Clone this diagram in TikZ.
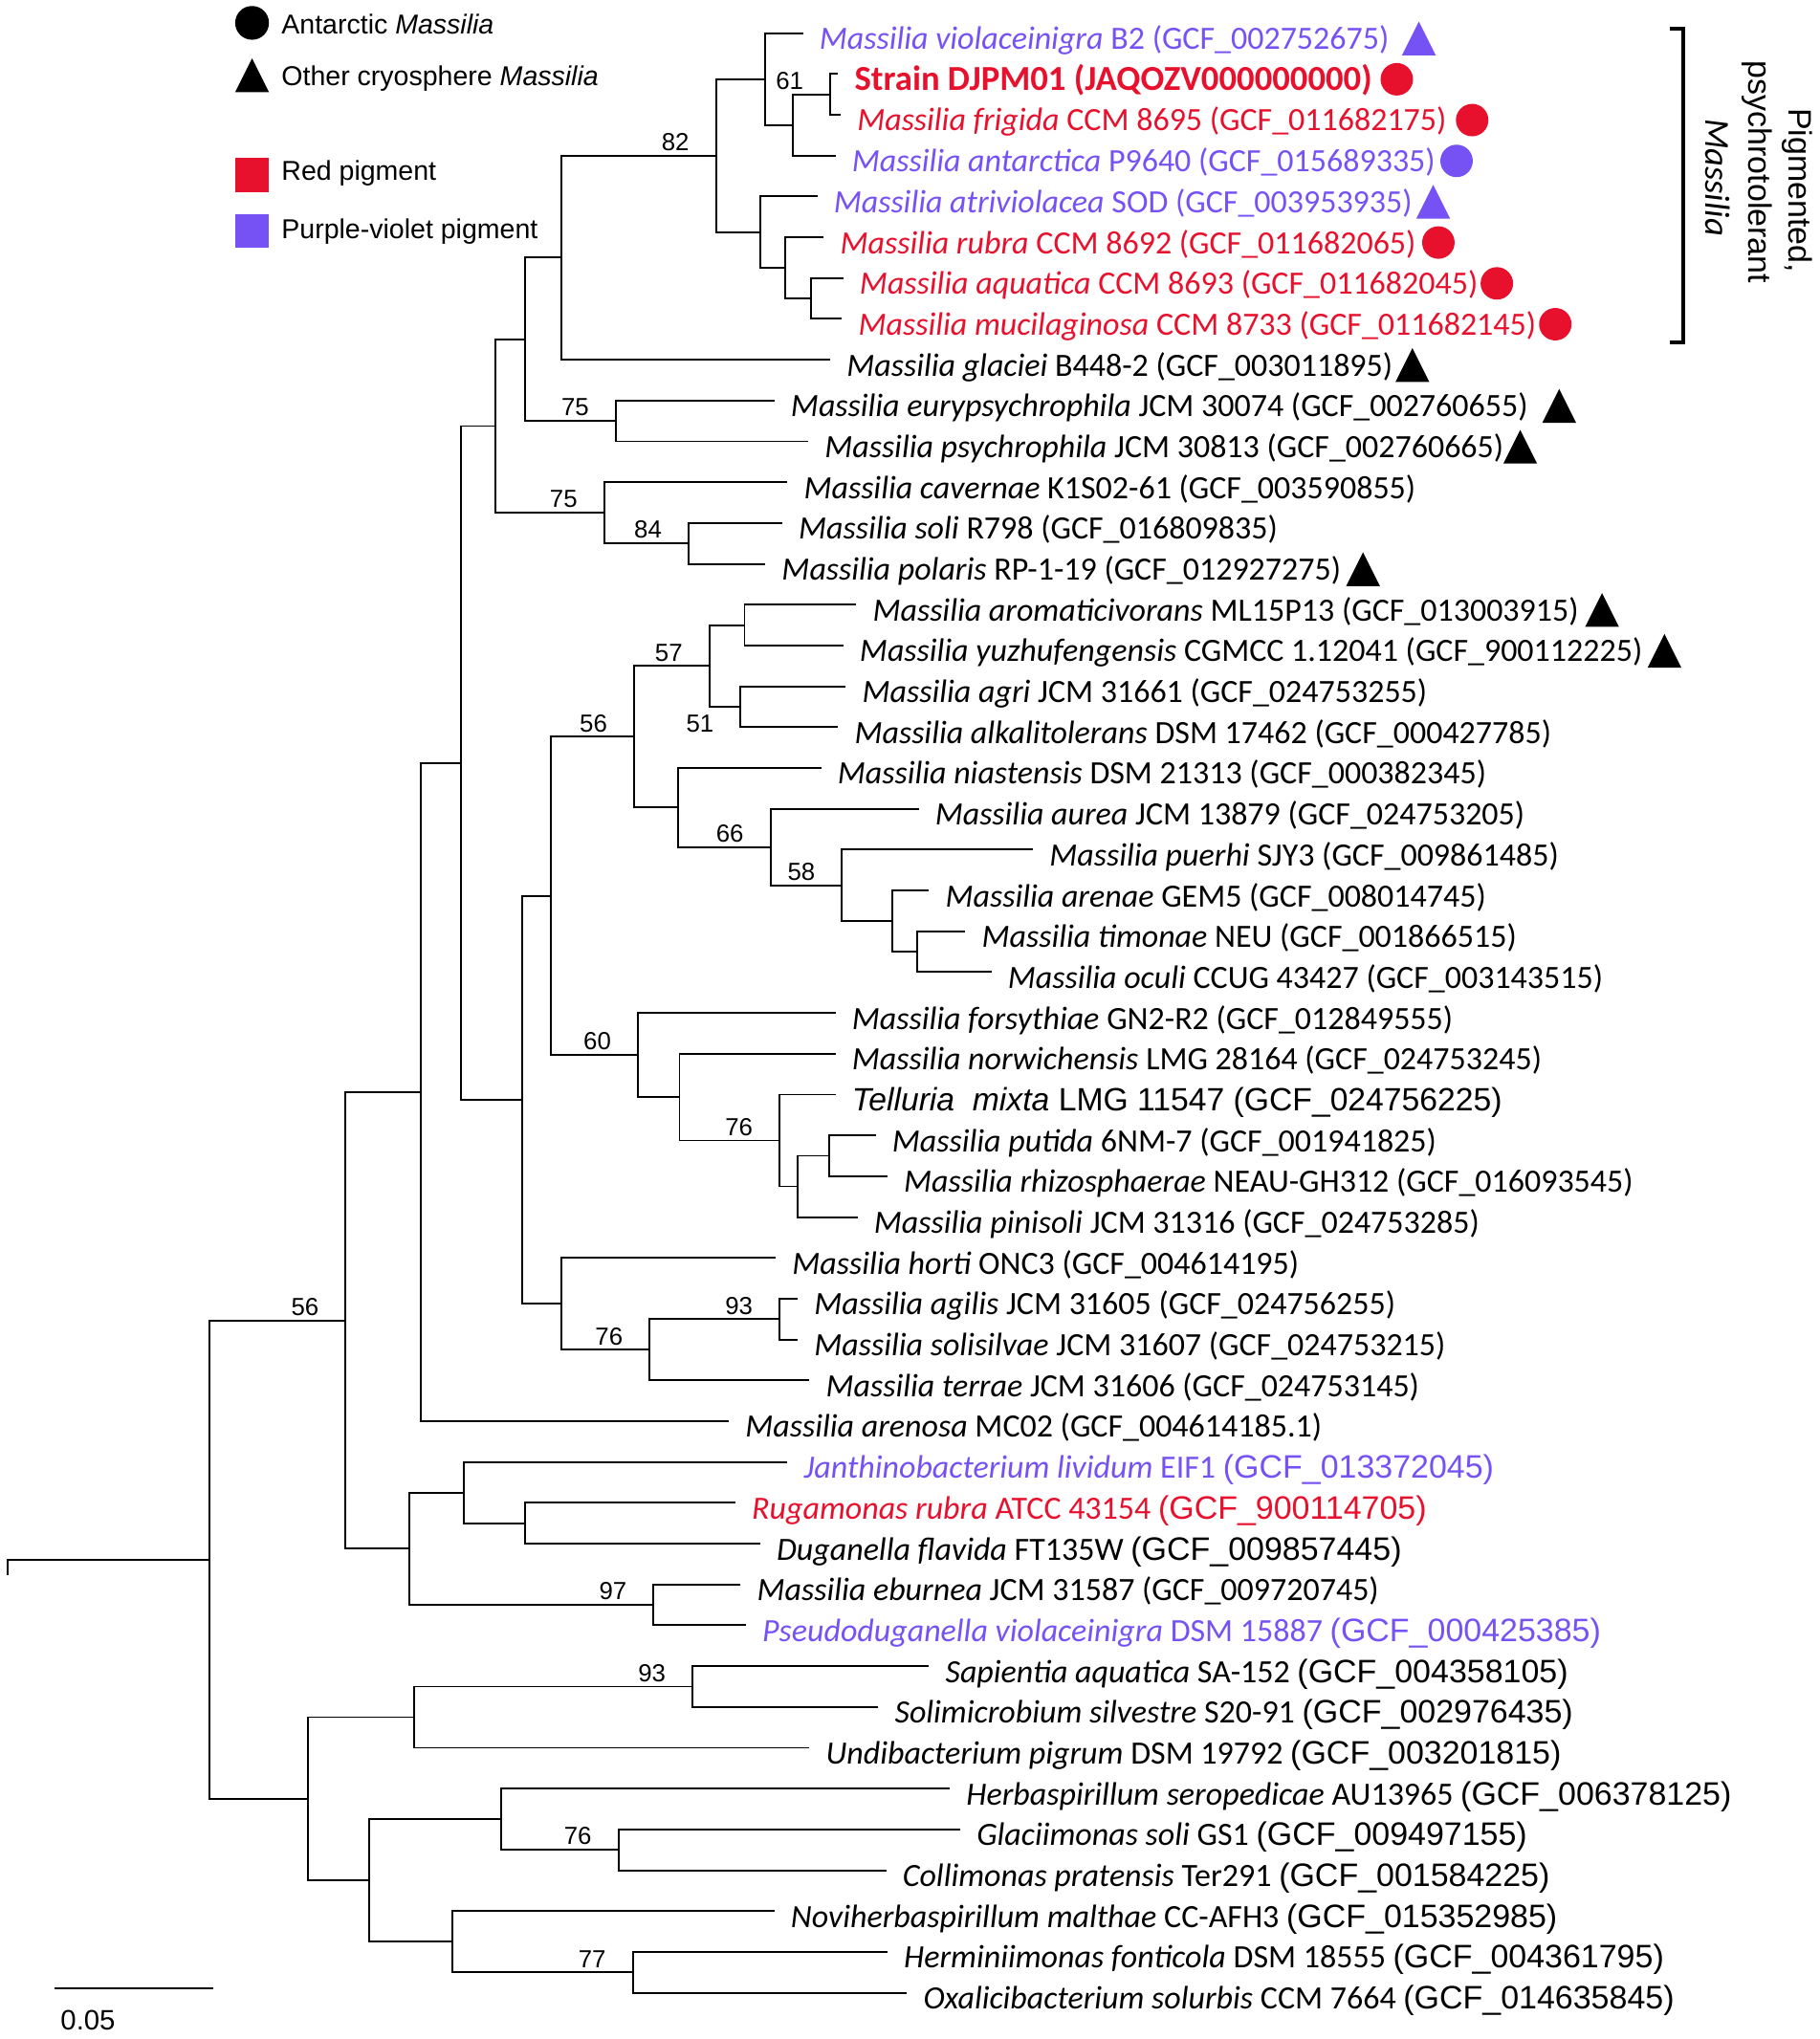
\documentclass[tikz,border=0pt]{standalone}
\usepackage{fontspec}
\setmainfont{Carlito}
\newfontfamily\arialf{Liberation Sans}
\usetikzlibrary{shapes.geometric}
\definecolor{redpig}{RGB}{232,17,45}
\definecolor{violpig}{RGB}{118,82,245}

\begin{document}
\begin{tikzpicture}[x=0.5pt, y=-15.71pt, line width=0.7pt,
		leaf/.style={anchor=base west, inner sep=0pt, xshift=6pt, yshift=-6.25pt, font=\fontsize{12.5}{15}\selectfont},
		boot/.style={anchor=south east, inner sep=0pt, xshift=-10pt, yshift=1.5pt, font=\arialf\fontsize{9.5}{11}\selectfont},
		key/.style={anchor=base west, inner sep=0pt, font=\arialf\fontsize{10.5}{12}\selectfont},
		circ/.style={circle, draw=none, inner sep=0pt, outer sep=0pt, minimum size=12.5pt},
		tri/.style={isosceles triangle, isosceles triangle stretches=true, shape border rotate=90, draw=none, inner sep=0pt, outer sep=0pt, minimum width=13pt, minimum height=13pt, anchor=apex},
		sq/.style={rectangle, draw=none, inner sep=0pt, minimum size=13pt}
	]
	\useasboundingbox (0,0.1884) rectangle (1400,50.134);

	% legend
	\node[circ, fill=black, minimum size=13pt] (keycirc) at (194,0.749) {};
	\node[key] (keyant) at (216,1.009) {Antarctic \textit{Massilia}};
	\node[tri, fill=black] (keytri) at (194,1.62) {};
	\node[key] (keycryo) at (216,2.295) {Other cryosphere \textit{Massilia}};
	\node[sq, fill=redpig] (keyred) at (194,4.472) {};
	\node[key] (keyredtxt) at (216,4.612) {Red pigment};
	\node[sq, fill=violpig] (keyviol) at (194,5.854) {};
	\node[key] (keyvioltxt) at (216,6.029) {Purple-violet pigment};

	% internal nodes
	\coordinate (nE) at (639,2.5);
	\coordinate (nD) at (610,3.25);
	\coordinate (nB) at (589,2.125);
	\coordinate (nH) at (624,7.5);
	\coordinate (nG) at (604,6.75);
	\coordinate (nF) at (585,5.875);
	\coordinate (nA) at (551,4);
	\coordinate (nI) at (432,6.5);
	\coordinate (nK) at (474,10.5);
	\coordinate (nJ) at (404,8.5);
	\coordinate (nN) at (530,13.5);
	\coordinate (nM) at (465,12.75);
	\coordinate (nL) at (381,10.625);
	\coordinate (nX) at (573,15.5);
	\coordinate (nY) at (570,17.5);
	\coordinate (nV) at (546,16.5);
	\coordinate (nAC) at (706,23.5);
	\coordinate (nAB) at (687,22.75);
	\coordinate (nAA) at (648,21.875);
	\coordinate (nZ) at (593,20.9375);
	\coordinate (nW) at (522,19.969);
	\coordinate (nT) at (488,18.234);
	\coordinate (nAH) at (638,28.5);
	\coordinate (nAG) at (614,29.25);
	\coordinate (nAF) at (600,28.125);
	\coordinate (nAE) at (523,27.0625);
	\coordinate (nAD) at (491,26.031);
	\coordinate (nR) at (424,22.133);
	\coordinate (nAJ) at (600,32.5);
	\coordinate (nAI) at (500,33.25);
	\coordinate (nS) at (432,32.125);
	\coordinate (nQ) at (402,27.129);
	\coordinate (nO) at (355,18.877);
	\coordinate (nP) at (324,26.938);
	\coordinate (nAO) at (404,37.5);
	\coordinate (nAM) at (357,36.75);
	\coordinate (nAN) at (503,39.5);
	\coordinate (nAL) at (315,38.125);
	\coordinate (nAK) at (266,32.53);
	\coordinate (nAP) at (533,41.5);
	\coordinate (nAQ) at (319,42.25);
	\coordinate (nAS) at (476,45.5);
	\coordinate (nAR) at (386,44.75);
	\coordinate (nAU) at (487,48.5);
	\coordinate (nAT) at (348,47.75);
	\coordinate (nAV) at (284,46.25);
	\coordinate (nAW) at (237,44.25);
	\coordinate (root) at (161,38.39);
	\coordinate (base) at (6,38.39);
	\coordinate (basetick) at (6,38.76);

	% leaves
	\coordinate (l1) at (618,1);
	\node[leaf, text=violpig] (t1) at (l1) {\textit{Massilia violaceinigra} B2 (GCF\_002752675)};
	\coordinate (l2) at (645,2);
	\node[leaf, text=redpig, font=\bfseries\fontsize{13.5}{15}\selectfont] (t2) at (l2) {Strain DJPM01 (JAQOZV000000000)};
	\coordinate (l3) at (647,3);
	\node[leaf, text=redpig] (t3) at (l3) {\textit{Massilia frigida} CCM 8695 (GCF\_011682175)};
	\coordinate (l4) at (643,4);
	\node[leaf, text=violpig] (t4) at (l4) {\textit{Massilia antarctica} P9640 (GCF\_015689335)};
	\coordinate (l5) at (629,5);
	\node[leaf, text=violpig] (t5) at (l5) {\textit{Massilia atriviolacea} SOD (GCF\_003953935)};
	\coordinate (l6) at (634,6);
	\node[leaf, text=redpig] (t6) at (l6) {\textit{Massilia rubra} CCM 8692 (GCF\_011682065)};
	\coordinate (l7) at (649,7);
	\node[leaf, text=redpig] (t7) at (l7) {\textit{Massilia aquatica} CCM 8693 (GCF\_011682045)};
	\coordinate (l8) at (648,8);
	\node[leaf, text=redpig] (t8) at (l8) {\textit{Massilia mucilaginosa} CCM 8733 (GCF\_011682145)};
	\coordinate (l9) at (639,9);
	\node[leaf] (t9) at (l9) {\textit{Massilia glaciei} B448-2 (GCF\_003011895)};
	\coordinate (l10) at (596,10);
	\node[leaf] (t10) at (l10) {\textit{Massilia eurypsychrophila} JCM 30074 (GCF\_002760655)};
	\coordinate (l11) at (622,11);
	\node[leaf] (t11) at (l11) {\textit{Massilia psychrophila} JCM 30813 (GCF\_002760665)};
	\coordinate (l12) at (606,12);
	\node[leaf] (t12) at (l12) {\textit{Massilia cavernae} K1S02-61 (GCF\_003590855)};
	\coordinate (l13) at (602,13);
	\node[leaf] (t13) at (l13) {\textit{Massilia soli} R798 (GCF\_016809835)};
	\coordinate (l14) at (589,14);
	\node[leaf] (t14) at (l14) {\textit{Massilia polaris} RP-1-19 (GCF\_012927275)};
	\coordinate (l15) at (659,15);
	\node[leaf] (t15) at (l15) {\textit{Massilia aromaticivorans} ML15P13 (GCF\_013003915)};
	\coordinate (l16) at (649,16);
	\node[leaf] (t16) at (l16) {\textit{Massilia yuzhufengensis} CGMCC 1.12041 (GCF\_900112225)};
	\coordinate (l17) at (651,17);
	\node[leaf] (t17) at (l17) {\textit{Massilia agri} JCM 31661 (GCF\_024753255)};
	\coordinate (l18) at (645,18);
	\node[leaf] (t18) at (l18) {\textit{Massilia alkalitolerans} DSM 17462 (GCF\_000427785)};
	\coordinate (l19) at (632,19);
	\node[leaf] (t19) at (l19) {\textit{Massilia niastensis} DSM 21313 (GCF\_000382345)};
	\coordinate (l20) at (707,20);
	\node[leaf] (t20) at (l20) {\textit{Massilia aurea} JCM 13879 (GCF\_024753205)};
	\coordinate (l21) at (795,21);
	\node[leaf] (t21) at (l21) {\textit{Massilia puerhi} SJY3 (GCF\_009861485)};
	\coordinate (l22) at (715,22);
	\node[leaf] (t22) at (l22) {\textit{Massilia arenae} GEM5 (GCF\_008014745)};
	\coordinate (l23) at (743,23);
	\node[leaf] (t23) at (l23) {\textit{Massilia timonae} NEU (GCF\_001866515)};
	\coordinate (l24) at (763,24);
	\node[leaf] (t24) at (l24) {\textit{Massilia oculi} CCUG 43427 (GCF\_003143515)};
	\coordinate (l25) at (643,25);
	\node[leaf] (t25) at (l25) {\textit{Massilia forsythiae} GN2-R2 (GCF\_012849555)};
	\coordinate (l26) at (643,26);
	\node[leaf] (t26) at (l26) {\textit{Massilia norwichensis} LMG 28164 (GCF\_024753245)};
	\coordinate (l27) at (643,27);
	\node[leaf, font=\arialf\fontsize{12.4}{15}\selectfont] (t27) at (l27) {\textit{Telluria\ \ mixta} LMG 11547 (GCF\_024756225)};
	\coordinate (l28) at (674,28);
	\node[leaf] (t28) at (l28) {\textit{Massilia putida} 6NM-7 (GCF\_001941825)};
	\coordinate (l29) at (683,29);
	\node[leaf] (t29) at (l29) {\textit{Massilia rhizosphaerae} NEAU-GH312 (GCF\_016093545)};
	\coordinate (l30) at (660,30);
	\node[leaf] (t30) at (l30) {\textit{Massilia pinisoli} JCM 31316 (GCF\_024753285)};
	\coordinate (l31) at (597,31);
	\node[leaf] (t31) at (l31) {\textit{Massilia horti} ONC3 (GCF\_004614195)};
	\coordinate (l32) at (614,32);
	\node[leaf] (t32) at (l32) {\textit{Massilia agilis} JCM 31605 (GCF\_024756255)};
	\coordinate (l33) at (614,33);
	\node[leaf] (t33) at (l33) {\textit{Massilia solisilvae} JCM 31607 (GCF\_024753215)};
	\coordinate (l34) at (623,34);
	\node[leaf] (t34) at (l34) {\textit{Massilia terrae} JCM 31606 (GCF\_024753145)};
	\coordinate (l35) at (561,35);
	\node[leaf] (t35) at (l35) {\textit{Massilia arenosa} MC02 (GCF\_004614185.1)};
	\coordinate (l36) at (606,36);
	\node[leaf, text=violpig] (t36) at (l36) {\textit{Janthinobacterium lividum} EIF1 {\arialf (GCF\_013372045)}};
	\coordinate (l37) at (566,37);
	\node[leaf, text=redpig] (t37) at (l37) {\textit{Rugamonas rubra} ATCC 43154 {\arialf (GCF\_900114705)}};
	\coordinate (l38) at (585,38);
	\node[leaf] (t38) at (l38) {\textit{Duganella flavida} FT135W {\arialf (GCF\_009857445)}};
	\coordinate (l39) at (570,39);
	\node[leaf] (t39) at (l39) {\textit{Massilia eburnea} JCM 31587 (GCF\_009720745)};
	\coordinate (l40) at (574,40);
	\node[leaf, text=violpig] (t40) at (l40) {\textit{Pseudoduganella violaceinigra} DSM 15887 {\arialf (GCF\_000425385)}};
	\coordinate (l41) at (715,41);
	\node[leaf] (t41) at (l41) {\textit{Sapientia aquatica} SA-152 {\arialf (GCF\_004358105)}};
	\coordinate (l42) at (676,42);
	\node[leaf] (t42) at (l42) {\textit{Solimicrobium silvestre} S20-91 {\arialf (GCF\_002976435)}};
	\coordinate (l43) at (623,43);
	\node[leaf] (t43) at (l43) {\textit{Undibacterium pigrum} DSM 19792 {\arialf (GCF\_003201815)}};
	\coordinate (l44) at (731,44);
	\node[leaf] (t44) at (l44) {\textit{Herbaspirillum seropedicae} AU13965 {\arialf (GCF\_006378125)}};
	\coordinate (l45) at (739,45);
	\node[leaf] (t45) at (l45) {\textit{Glaciimonas soli} GS1 {\arialf (GCF\_009497155)}};
	\coordinate (l46) at (682,46);
	\node[leaf] (t46) at (l46) {\textit{Collimonas pratensis} Ter291 {\arialf (GCF\_001584225)}};
	\coordinate (l47) at (596,47);
	\node[leaf] (t47) at (l47) {\textit{Noviherbaspirillum malthae} CC-AFH3 {\arialf (GCF\_015352985)}};
	\coordinate (l48) at (683,48);
	\node[leaf] (t48) at (l48) {\textit{Herminiimonas fonticola} DSM 18555 {\arialf (GCF\_004361795)}};
	\coordinate (l49) at (698,49);
	\node[leaf] (t49) at (l49) {\textit{Oxalicibacterium solurbis} CCM 7664 {\arialf (GCF\_014635845)}};

	% branches
	\draw (nE) |- (l2) (nE) |- (l3);
	\draw (nD) |- (nE) (nD) |- (l4);
	\draw (nB) |- (l1) (nB) |- (nD);
	\draw (nH) |- (l7) (nH) |- (l8);
	\draw (nG) |- (l6) (nG) |- (nH);
	\draw (nF) |- (l5) (nF) |- (nG);
	\draw (nA) |- (nB) (nA) |- (nF);
	\draw (nI) |- (nA) (nI) |- (l9);
	\draw (nK) |- (l10) (nK) |- (l11);
	\draw (nJ) |- (nI) (nJ) |- (nK);
	\draw (nN) |- (l13) (nN) |- (l14);
	\draw (nM) |- (l12) (nM) |- (nN);
	\draw (nL) |- (nJ) (nL) |- (nM);
	\draw (nX) |- (l15) (nX) |- (l16);
	\draw (nY) |- (l17) (nY) |- (l18);
	\draw (nV) |- (nX) (nV) |- (nY);
	\draw (nAC) |- (l23) (nAC) |- (l24);
	\draw (nAB) |- (l22) (nAB) |- (nAC);
	\draw (nAA) |- (l21) (nAA) |- (nAB);
	\draw (nZ) |- (l20) (nZ) |- (nAA);
	\draw (nW) |- (l19) (nW) |- (nZ);
	\draw (nT) |- (nV) (nT) |- (nW);
	\draw (nAH) |- (l28) (nAH) |- (l29);
	\draw (nAG) |- (nAH) (nAG) |- (l30);
	\draw (nAF) |- (l27) (nAF) |- (nAG);
	\draw (nAE) |- (l26) (nAE) |- (nAF);
	\draw (nAD) |- (l25) (nAD) |- (nAE);
	\draw (nR) |- (nT) (nR) |- (nAD);
	\draw (nAJ) |- (l32) (nAJ) |- (l33);
	\draw (nAI) |- (nAJ) (nAI) |- (l34);
	\draw (nS) |- (l31) (nS) |- (nAI);
	\draw (nQ) |- (nR) (nQ) |- (nS);
	\draw (nO) |- (nL) (nO) |- (nQ);
	\draw (nP) |- (nO) (nP) |- (l35);
	\draw (nAO) |- (l37) (nAO) |- (l38);
	\draw (nAM) |- (l36) (nAM) |- (nAO);
	\draw (nAN) |- (l39) (nAN) |- (l40);
	\draw (nAL) |- (nAM) (nAL) |- (nAN);
	\draw (nAK) |- (nP) (nAK) |- (nAL);
	\draw (nAP) |- (l41) (nAP) |- (l42);
	\draw (nAQ) |- (nAP) (nAQ) |- (l43);
	\draw (nAS) |- (l45) (nAS) |- (l46);
	\draw (nAR) |- (l44) (nAR) |- (nAS);
	\draw (nAU) |- (l48) (nAU) |- (l49);
	\draw (nAT) |- (l47) (nAT) |- (nAU);
	\draw (nAV) |- (nAR) (nAV) |- (nAT);
	\draw (nAW) |- (nAQ) (nAW) |- (nAV);
	\draw (root) |- (nAK) (root) |- (nAW);
	\draw (basetick) -- (base) -- (root);

	% bootstrap values
	\node[boot] (b61) at (nE) {61};
	\node[boot] (b82) at (nA) {82};
	\node[boot] (b75a) at (nK) {75};
	\node[boot] (b75b) at (nM) {75};
	\node[boot] (b84) at (nN) {84};
	\node[boot] (b57) at (nV) {57};
	\node[boot, anchor=north east, yshift=-4.5pt] (b51) at (nY) {51};
	\node[boot] (b56a) at (nT) {56};
	\node[boot] (b66) at (nZ) {66};
	\node[boot] (b58) at (nAA) {58};
	\node[boot] (b60) at (nAD) {60};
	\node[boot] (b76a) at (nAF) {76};
	\node[boot] (b93a) at (nAJ) {93};
	\node[boot] (b76b) at (nAI) {76};
	\node[boot] (b56b) at (nAK) {56};
	\node[boot] (b97) at (nAN) {97};
	\node[boot] (b93b) at (nAP) {93};
	\node[boot] (b76c) at (nAS) {76};
	\node[boot] (b77) at (nAU) {77};

	% markers
	\node[tri, fill=violpig] (m1) at (1092,0.716) {};
	\node[circ, fill=redpig] (m2) at (1075,2.13) {};
	\node[circ, fill=redpig] (m3) at (1133,3.13) {};
	\node[circ, fill=violpig] (m4) at (1121,4.13) {};
	\node[tri, fill=violpig] (m5) at (1103,4.716) {};
	\node[circ, fill=redpig] (m6) at (1107,6.13) {};
	\node[circ, fill=redpig] (m7) at (1152,7.13) {};
	\node[circ, fill=redpig] (m8) at (1197,8.13) {};
	\node[tri, fill=black] (m9) at (1087,8.716) {};
	\node[tri, fill=black] (m10) at (1200,9.716) {};
	\node[tri, fill=black] (m11) at (1170,10.716) {};
	\node[tri, fill=black] (m14) at (1049,13.716) {};
	\node[tri, fill=black] (m15) at (1233,14.716) {};
	\node[tri, fill=black] (m16) at (1281,15.716) {};

	% pigmented clade bracket
	\coordinate (brt1) at (1285.5,0.889);
	\coordinate (brt2) at (1295.5,0.889);
	\coordinate (brb2) at (1295.5,8.584);
	\coordinate (brb1) at (1285.5,8.584);
	\draw[line width=1.5pt] (brt1) -- (brt2) -- (brb2) -- (brb1);
	\node[rotate=-90, inner sep=0pt, font=\arialf\fontsize{12.5}{15}\selectfont] (brk1) at (1383,4.851) {Pigmented,};
	\node[rotate=-90, inner sep=0pt, font=\arialf\fontsize{12.5}{15}\selectfont] (brk2) at (1352,4.405) {psychrotolerant};
	\node[rotate=-90, inner sep=0pt, font=\itshape\fontsize{13.5}{15}\selectfont] (brk3) at (1322,4.536) {Massilia};

	% scale bar
	\coordinate (sb1) at (42,48.884);
	\coordinate (sb2) at (164,48.884);
	\draw (sb1) -- (sb2);
	\node[anchor=west, inner sep=0pt, font=\arialf\fontsize{10.8}{12}\selectfont] (sblabel) at (46,49.68) {0.05};
\end{tikzpicture}
\end{document}
